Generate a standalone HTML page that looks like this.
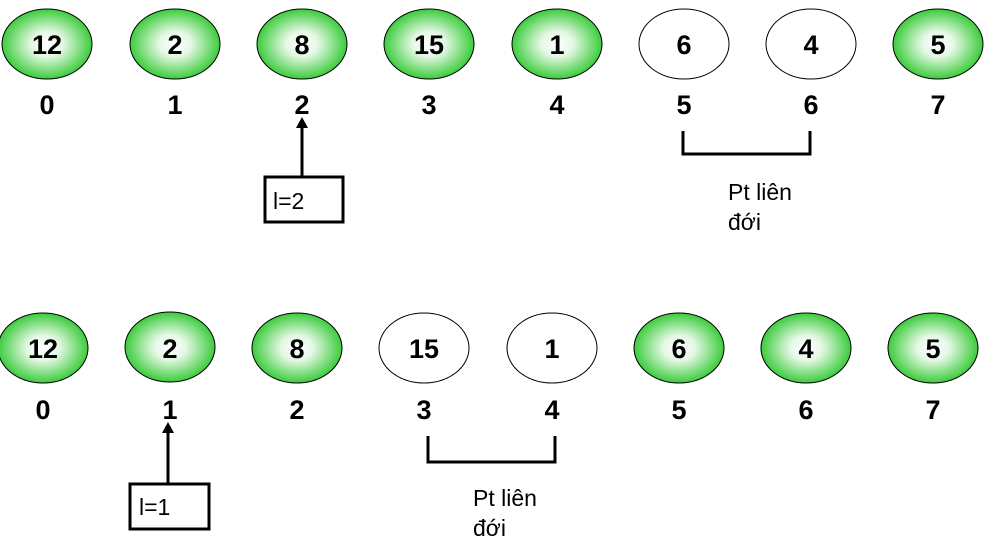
<!DOCTYPE html>
<html><head><meta charset="utf-8"><style>
html,body{margin:0;padding:0;background:#fff;}
svg{display:block;}
.n{font-family:"Liberation Sans","DejaVu Sans",sans-serif;font-weight:bold;font-size:27px;fill:#000;text-anchor:middle;}
.t{font-family:"Liberation Sans","DejaVu Sans",sans-serif;font-size:23px;fill:#000;}
</style></head><body>
<svg width="984" height="542" viewBox="0 0 984 542" xmlns="http://www.w3.org/2000/svg">
<defs>
<radialGradient id="g" cx="50%" cy="50%" r="50%">
<stop offset="0" stop-color="#ffffff"/>
<stop offset="0.35" stop-color="#e6f8e6"/>
<stop offset="1" stop-color="#3ccc3c"/>
</radialGradient>
</defs>
<g stroke="#000" stroke-width="1">
<ellipse cx="47" cy="44" rx="45" ry="35" fill="url(#g)"/>
<ellipse cx="175" cy="44" rx="45" ry="35" fill="url(#g)"/>
<ellipse cx="302" cy="44" rx="45" ry="35" fill="url(#g)"/>
<ellipse cx="429" cy="44" rx="45" ry="35" fill="url(#g)"/>
<ellipse cx="557" cy="44" rx="45" ry="35" fill="url(#g)"/>
<ellipse cx="684" cy="44" rx="45" ry="35" fill="#fff"/>
<ellipse cx="811" cy="44" rx="45" ry="35" fill="#fff"/>
<ellipse cx="938" cy="44" rx="45" ry="35" fill="url(#g)"/>
<ellipse cx="43" cy="348" rx="45" ry="35" fill="url(#g)"/>
<ellipse cx="170" cy="347" rx="45" ry="35" fill="url(#g)"/>
<ellipse cx="297" cy="348" rx="45" ry="35" fill="url(#g)"/>
<ellipse cx="424" cy="348" rx="45" ry="35" fill="#fff"/>
<ellipse cx="552" cy="348" rx="45" ry="35" fill="#fff"/>
<ellipse cx="679" cy="348" rx="45" ry="35" fill="url(#g)"/>
<ellipse cx="806" cy="348" rx="45" ry="35" fill="url(#g)"/>
<ellipse cx="933" cy="348" rx="45" ry="35" fill="url(#g)"/>
</g>
<g class="n">
<text x="47" y="54">12</text><text x="175" y="54">2</text><text x="302" y="54">8</text><text x="429" y="54">15</text>
<text x="557" y="54">1</text><text x="684" y="54">6</text><text x="811" y="54">4</text><text x="938" y="54">5</text>
<text x="47" y="114">0</text><text x="175" y="114">1</text><text x="302" y="114">2</text><text x="429" y="114">3</text>
<text x="557" y="114">4</text><text x="684" y="114">5</text><text x="811" y="114">6</text><text x="938" y="114">7</text>
<text x="43" y="358">12</text><text x="170" y="358">2</text><text x="297" y="358">8</text><text x="424" y="358">15</text>
<text x="552" y="358">1</text><text x="679" y="358">6</text><text x="806" y="358">4</text><text x="933" y="358">5</text>
<text x="43" y="419">0</text><text x="170" y="419">1</text><text x="297" y="419">2</text><text x="424" y="419">3</text>
<text x="552" y="419">4</text><text x="679" y="419">5</text><text x="806" y="419">6</text><text x="933" y="419">7</text>
</g>
<g fill="none" stroke="#000" stroke-width="3">
<polyline points="683,131 683,154 810,154 810,131"/>
<polyline points="428,436 428,462 555,462 555,436"/>
<rect x="265" y="177" width="78" height="45"/>
<rect x="130" y="484" width="79" height="45"/>
<line x1="302" y1="177" x2="302" y2="126"/>
<line x1="168" y1="484" x2="168" y2="430"/>
</g>
<polygon points="302,117 296,128 308,128" fill="#000"/>
<polygon points="168,422 162,433 174,433" fill="#000"/>
<g class="t">
<text x="728" y="200">Pt liên</text><text x="728" y="230">đới</text>
<text x="473" y="506">Pt liên</text><text x="473" y="536">đới</text>
<text x="273" y="209">l=2</text><text x="139" y="515">l=1</text>
</g>
</svg>
</body></html>
